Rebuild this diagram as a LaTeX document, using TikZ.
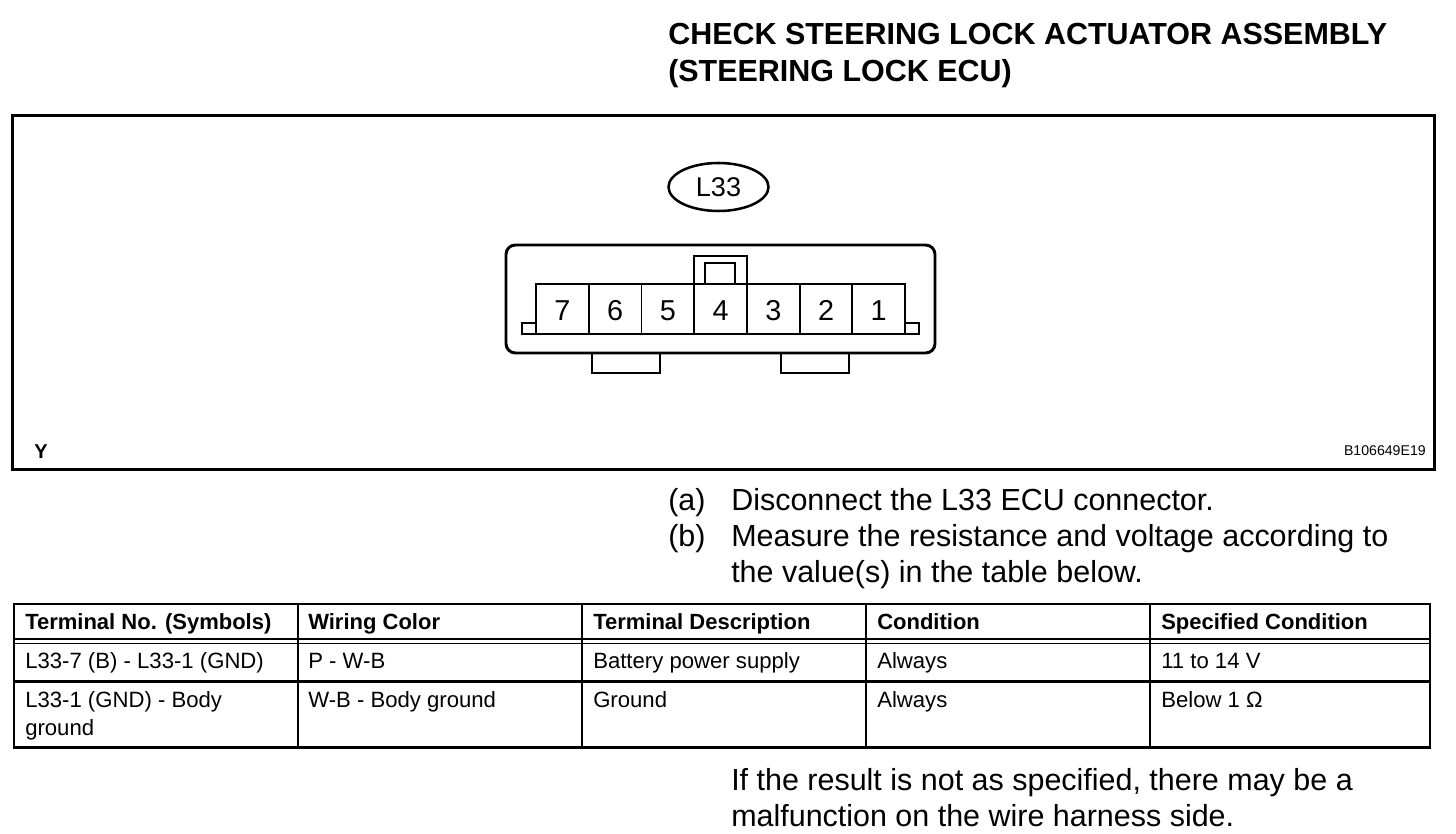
\documentclass[tikz,border=0pt]{standalone}
\usepackage{fontspec}
\setmainfont{Liberation Sans}
\usetikzlibrary{shapes.geometric}

\tikzset{
  thick line/.style={line width=2.25pt, line join=miter},
  thin line/.style={line width=1.3pt},
  title/.style={anchor=base west, inner sep=0, font=\fontsize{22.85}{26}\selectfont\bfseries},
  body/.style={anchor=base west, inner sep=0, font=\fontsize{22.85}{26}\selectfont},
  cell/.style={anchor=base west, inner sep=0, font=\fontsize{16.6}{20}\selectfont},
  head/.style={anchor=base west, inner sep=0, font=\fontsize{16.5}{20}\selectfont\bfseries},
  pin/.style={draw, thin line, minimum width=39.5pt, minimum height=37.5pt, inner sep=0, text height=17.4pt, text depth=0pt, font=\fontsize{21.6}{26}\selectfont},
}

\begin{document}
\begin{tikzpicture}[x=0.75pt, y=-0.75pt]
\useasboundingbox (0,0) rectangle (1456,834);

% Heading
\path
(668,45) node[title] (head1) {CHECK STEERING LOCK ACTUATOR ASSEMBLY}
(668,82) node[title] (head2) {(STEERING LOCK ECU)}
;

% Frame of the connector view
\draw[thick line] (12.5,116) rectangle (1434,469);
\path
(34,458) node[anchor=base west, inner sep=0, font=\fontsize{15}{18}\selectfont\bfseries] (view) {Y}
(1426,455) node[anchor=base east, inner sep=0, font=\fontsize{10.6}{12}\selectfont] (code) {B106649E19}
;

\node[draw, line width=1.9pt, ellipse, minimum width=75pt, minimum height=36pt, inner sep=0,
  font=\fontsize{20.3}{24}\selectfont] (tag) at (718.5,187) {L33};

% Connector body
\draw[line width=2.2pt, rounded corners=7pt] (506,245) rectangle (935,353);
\draw[line width=2.2pt] (592,353) -- (592,373) -- (660,373) -- (660,353);
\draw[line width=2.2pt] (781,353) -- (781,373) -- (849,373) -- (849,353);
\draw[thin line] (694,284) -- (694,256) -- (747,256) -- (747,284);
\draw[thin line] (705,284) -- (705,263) -- (735,263) -- (735,284);
\draw[thin line] (536,323) -- (522,323) -- (522,334) -- (536,334);
\draw[thin line] (905,323) -- (919,323) -- (919,334) -- (905,334);

% Terminals, numbered from the right
\foreach \n in {1,...,7}
  \node[pin] (pin\n) at ({878.7-(\n-1)*52.7},309) {\n};

% Steps
\path
(668,510) node[body] (stepa) {(a)}
(731,510) node[body] (texta) {Disconnect the L33 ECU connector.}
(668,546) node[body] (stepb) {(b)}
(731,546) node[body] (textb) {Measure the resistance and voltage according to}
(731,582) node[body] (textc) {the value(s) in the table below.}
;

% Table
\draw[line width=1.9pt] (14,604) rectangle (1430,747.5);
\draw[line width=1.1pt] (14,639) -- (1430,639) (14,643.5) -- (1430,643.5);
\draw[line width=1.9pt] (14,681.5) -- (1430,681.5);
\foreach \x in {298,582,866,1150}
  \draw[line width=1.3pt] (\x,604) -- (\x,747.5);

\path
(25,629) node[head] (h1) {Terminal No. (Symbols)}
(308,629) node[head] (h2) {Wiring Color}
(593,629) node[head] (h3) {Terminal Description}
(877,629) node[head] (h4) {Condition}
(1161,629) node[head] (h5) {Specified Condition}
(25,668) node[cell] (a1) {L33-7 (B) - L33-1 (GND)}
(308,668) node[cell] (a2) {P - W-B}
(593,668) node[cell] (a3) {Battery power supply}
(877,668) node[cell] (a4) {Always}
(1161,668) node[cell] (a5) {11 to 14 V}
(25,707) node[cell] (b1) {L33-1 (GND) - Body}
(25,735) node[cell] (b1x) {ground}
(308,707) node[cell] (b2) {W-B - Body ground}
(593,707) node[cell] (b3) {Ground}
(877,707) node[cell] (b4) {Always}
(1161,707) node[cell] (b5) {Below 1 Ω}
;

% Closing note
\path
(731,790) node[body] (note1) {If the result is not as specified, there may be a}
(731,826) node[body] (note2) {malfunction on the wire harness side.}
;
\end{tikzpicture}
\end{document}
